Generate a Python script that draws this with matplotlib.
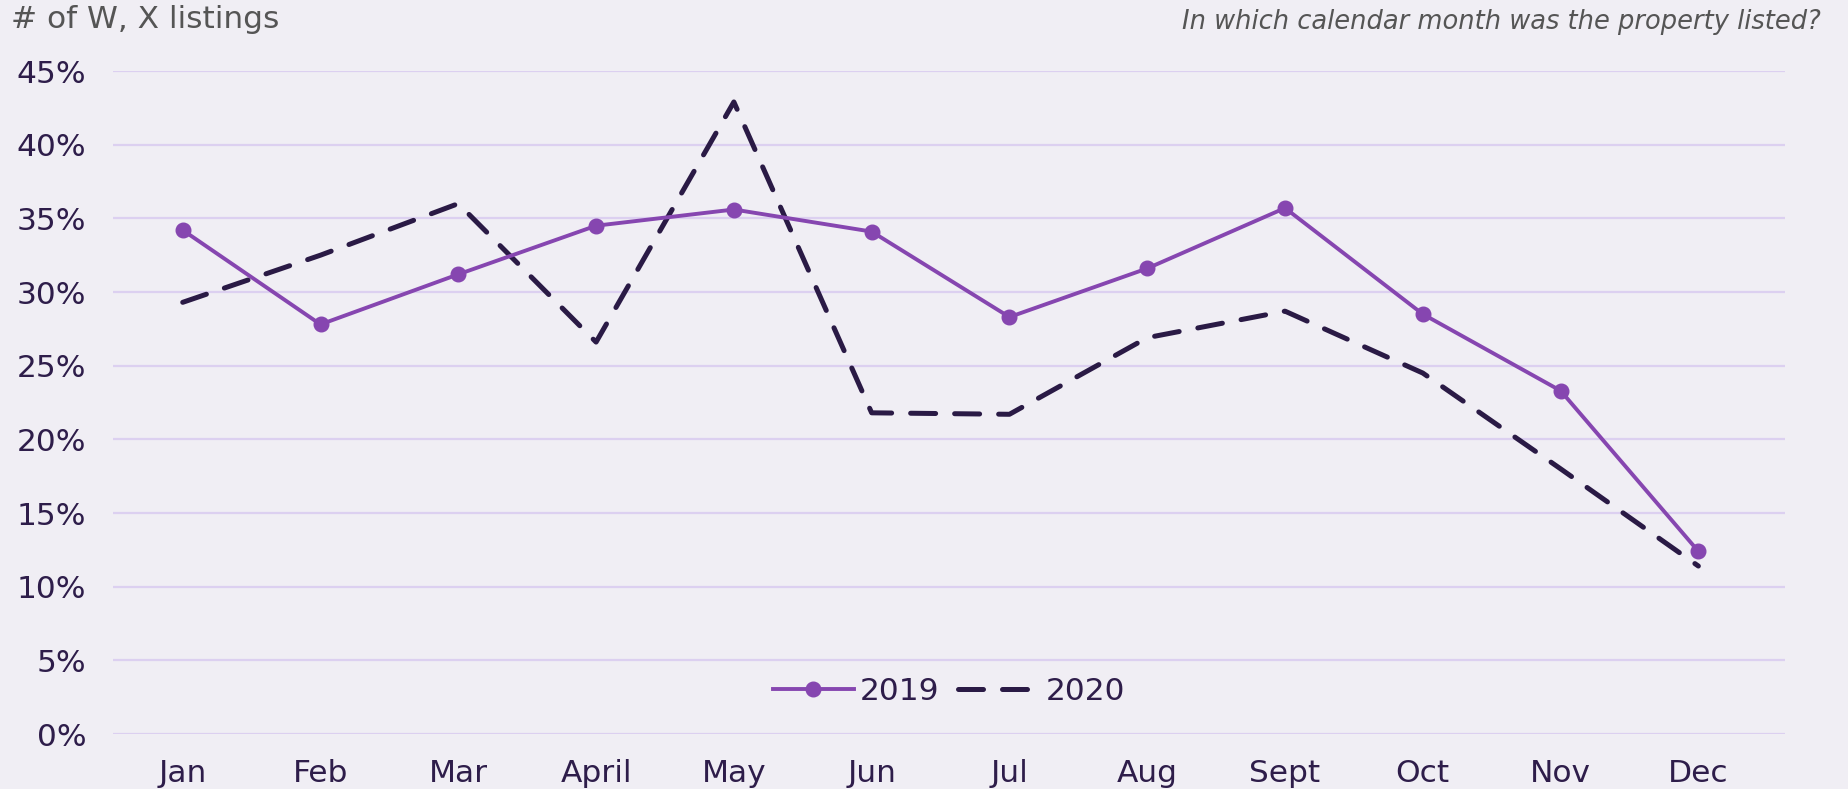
import numpy as np
import matplotlib.pyplot as plt

months = ['Jan', 'Feb', 'Mar', 'April', 'May', 'Jun', 'Jul', 'Aug', 'Sept', 'Oct', 'Nov', 'Dec']
y2019 = [34.2, 27.8, 31.2, 34.5, 35.6, 34.1, 28.3, 31.6, 35.7, 28.5, 23.3, 12.4]
y2020 = [29.3, 32.5, 36.0, 26.6, 42.9, 21.8, 21.7, 26.9, 28.7, 24.5, 18.0, 11.4]
yticks = [0, 5, 10, 15, 20, 25, 30, 35, 40, 45]

bg = '#F0EEF4'
purple = '#8646B0'
dark = '#2A1A45'
label_col = '#2E1D4A'

plt.rcParams['font.family'] = ['DejaVu Sans']

fig = plt.figure(figsize=(18.48, 7.89), dpi=100, facecolor=bg)
ax = fig.add_axes([0.061, 0.0697, 0.905, 0.8403], facecolor=bg)

x = np.arange(len(months))
ax.plot(x, y2019, color=purple, lw=2.8, marker='o', ms=10.5, label='2019', zorder=3)
ax.plot(x, y2020, color=dark, lw=3.6, dashes=(5.0, 3.8), dash_capstyle='round',
        label='2020', zorder=2)

ax.set_ylim(0, 45)
ax.set_xlim(-0.508, 11.63)
ax.set_yticks(yticks)
ax.set_yticklabels([f'{v}%' for v in yticks])
ax.set_xticks(x)
ax.set_xticklabels(months)
ax.grid(axis='y', color='#DCD0F0', lw=1.6)
ax.set_axisbelow(True)
for s in ax.spines.values():
    s.set_visible(False)
ax.tick_params(axis='both', length=0, labelsize=22.5, colors=label_col)
ax.tick_params(axis='y', pad=19)
ax.tick_params(axis='x', pad=18)

leg = ax.legend(loc='lower center', bbox_to_anchor=(0.5, 0.0), ncol=2, frameon=False,
                fontsize=22.5, handlelength=2.6, columnspacing=0.6, handletextpad=0.2)
for t in leg.get_texts():
    t.set_color(label_col)

fig.text(0.006, 0.975, '# of W, X listings', fontsize=22.5, color='#555555', va='center', ha='left')
fig.text(0.985, 0.972, 'In which calendar month was the property listed?', fontsize=18.5,
         color='#555555', style='italic', va='center', ha='right')

fig.savefig('out.png', dpi=100, facecolor=bg)
